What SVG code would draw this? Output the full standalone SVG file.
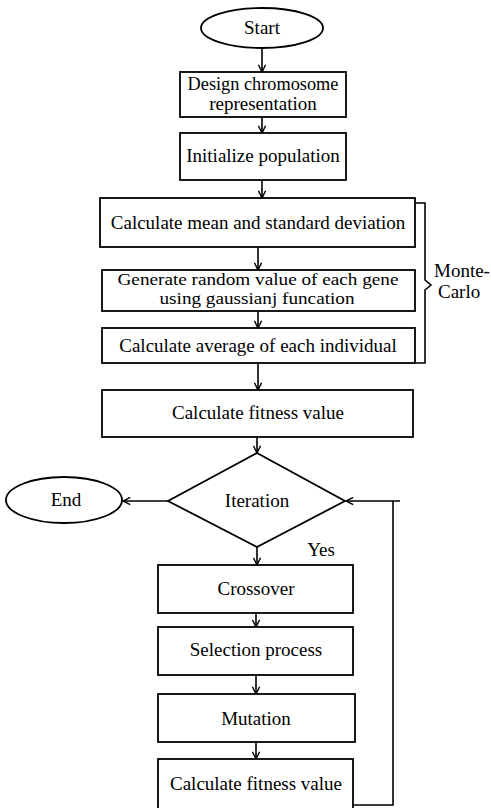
<svg xmlns="http://www.w3.org/2000/svg" width="491" height="808" viewBox="0 0 491 808">
<style>
.s{fill:#fff;stroke:#000;stroke-width:1.8}
.t{font-family:"Liberation Serif","Times New Roman",serif;font-size:19px;fill:#000;text-anchor:middle}
.l{text-anchor:start}
.c{fill:none;stroke:#000;stroke-width:1.6}
</style>
<defs>
<marker id="a" viewBox="0 0 10 10" refX="9" refY="5" markerWidth="9" markerHeight="9" markerUnits="userSpaceOnUse" orient="auto">
<path d="M1,1 L9,5 L1,9" fill="none" stroke="#000" stroke-width="1.6"/>
</marker>
</defs>
<rect width="491" height="808" fill="#fff"/>
<g id="connectors">
<path class="c" d="M262,48 V72" marker-end="url(#a)"/>
<path class="c" d="M262,117 V133" marker-end="url(#a)"/>
<path class="c" d="M262,180 V198" marker-end="url(#a)"/>
<path class="c" d="M258,247 V270" marker-end="url(#a)"/>
<path class="c" d="M258,311 V328" marker-end="url(#a)"/>
<path class="c" d="M258,363 V390" marker-end="url(#a)"/>
<path class="c" d="M257,437 V453" marker-end="url(#a)"/>
<path class="c" d="M168,501 H123" marker-end="url(#a)"/>
<path class="c" d="M257,547 V565" marker-end="url(#a)"/>
<path class="c" d="M256,613 V627" marker-end="url(#a)"/>
<path class="c" d="M256,675 V694" marker-end="url(#a)"/>
<path class="c" d="M256,742 V759" marker-end="url(#a)"/>
<path class="c" d="M353,805 H393 V501"/>
<path class="c" d="M400,501 H346" marker-end="url(#a)"/>
</g>
<g id="start"><ellipse class="s" cx="262" cy="28" rx="61" ry="20"/><text class="t" x="262" y="34">Start</text></g>
<g id="design"><rect class="s" x="180" y="72" width="166" height="45"/><text class="t" x="263" y="90" style="font-size:18.3px">Design chromosome</text><text class="t" x="263" y="110">representation</text></g>
<g id="init"><rect class="s" x="180" y="133" width="166" height="47"/><text class="t" x="263" y="162">Initialize population</text></g>
<g id="mean"><rect class="s" x="100" y="198" width="315" height="49"/><text class="t" x="258" y="229">Calculate mean and standard deviation</text></g>
<g id="generate"><rect class="s" x="102" y="270" width="313" height="41"/><text class="t" x="258" y="284.5" style="font-size:17px" textLength="281" lengthAdjust="spacingAndGlyphs">Generate random value of each gene</text><text class="t" x="257" y="304" style="font-size:17px" textLength="195" lengthAdjust="spacingAndGlyphs">using gaussianj funcation</text></g>
<g id="average"><rect class="s" x="102" y="328" width="313" height="35"/><text class="t" x="258" y="352">Calculate average of each individual</text></g>
<g id="fitness1"><rect class="s" x="102" y="390" width="311" height="47"/><text class="t" x="258" y="419">Calculate fitness value</text></g>
<g id="montecarlo"><path class="c" d="M415,203 H425 V280 L431,285 L425,290 V363 H415"/><text class="t l" x="434" y="277">Monte-</text><text class="t l" x="438" y="298">Carlo</text></g>
<g id="iteration"><polygon class="s" points="257,453 345,501 257,547 168,501"/><text class="t" x="257" y="507">Iteration</text></g>
<g id="end"><ellipse class="s" cx="64" cy="500" rx="58" ry="23"/><text class="t" x="66" y="506">End</text></g>
<text class="t" x="321" y="556">Yes</text>
<g id="crossover"><rect class="s" x="158" y="565" width="195" height="48"/><text class="t" x="256" y="595">Crossover</text></g>
<g id="selection"><rect class="s" x="158" y="627" width="195" height="48"/><text class="t" x="256" y="656">Selection process</text></g>
<g id="mutation"><rect class="s" x="158" y="694" width="197" height="48"/><text class="t" x="256" y="725">Mutation</text></g>
<g id="fitness2"><rect class="s" x="158" y="759" width="195" height="60"/><text class="t" x="256" y="790">Calculate fitness value</text></g>
</svg>
